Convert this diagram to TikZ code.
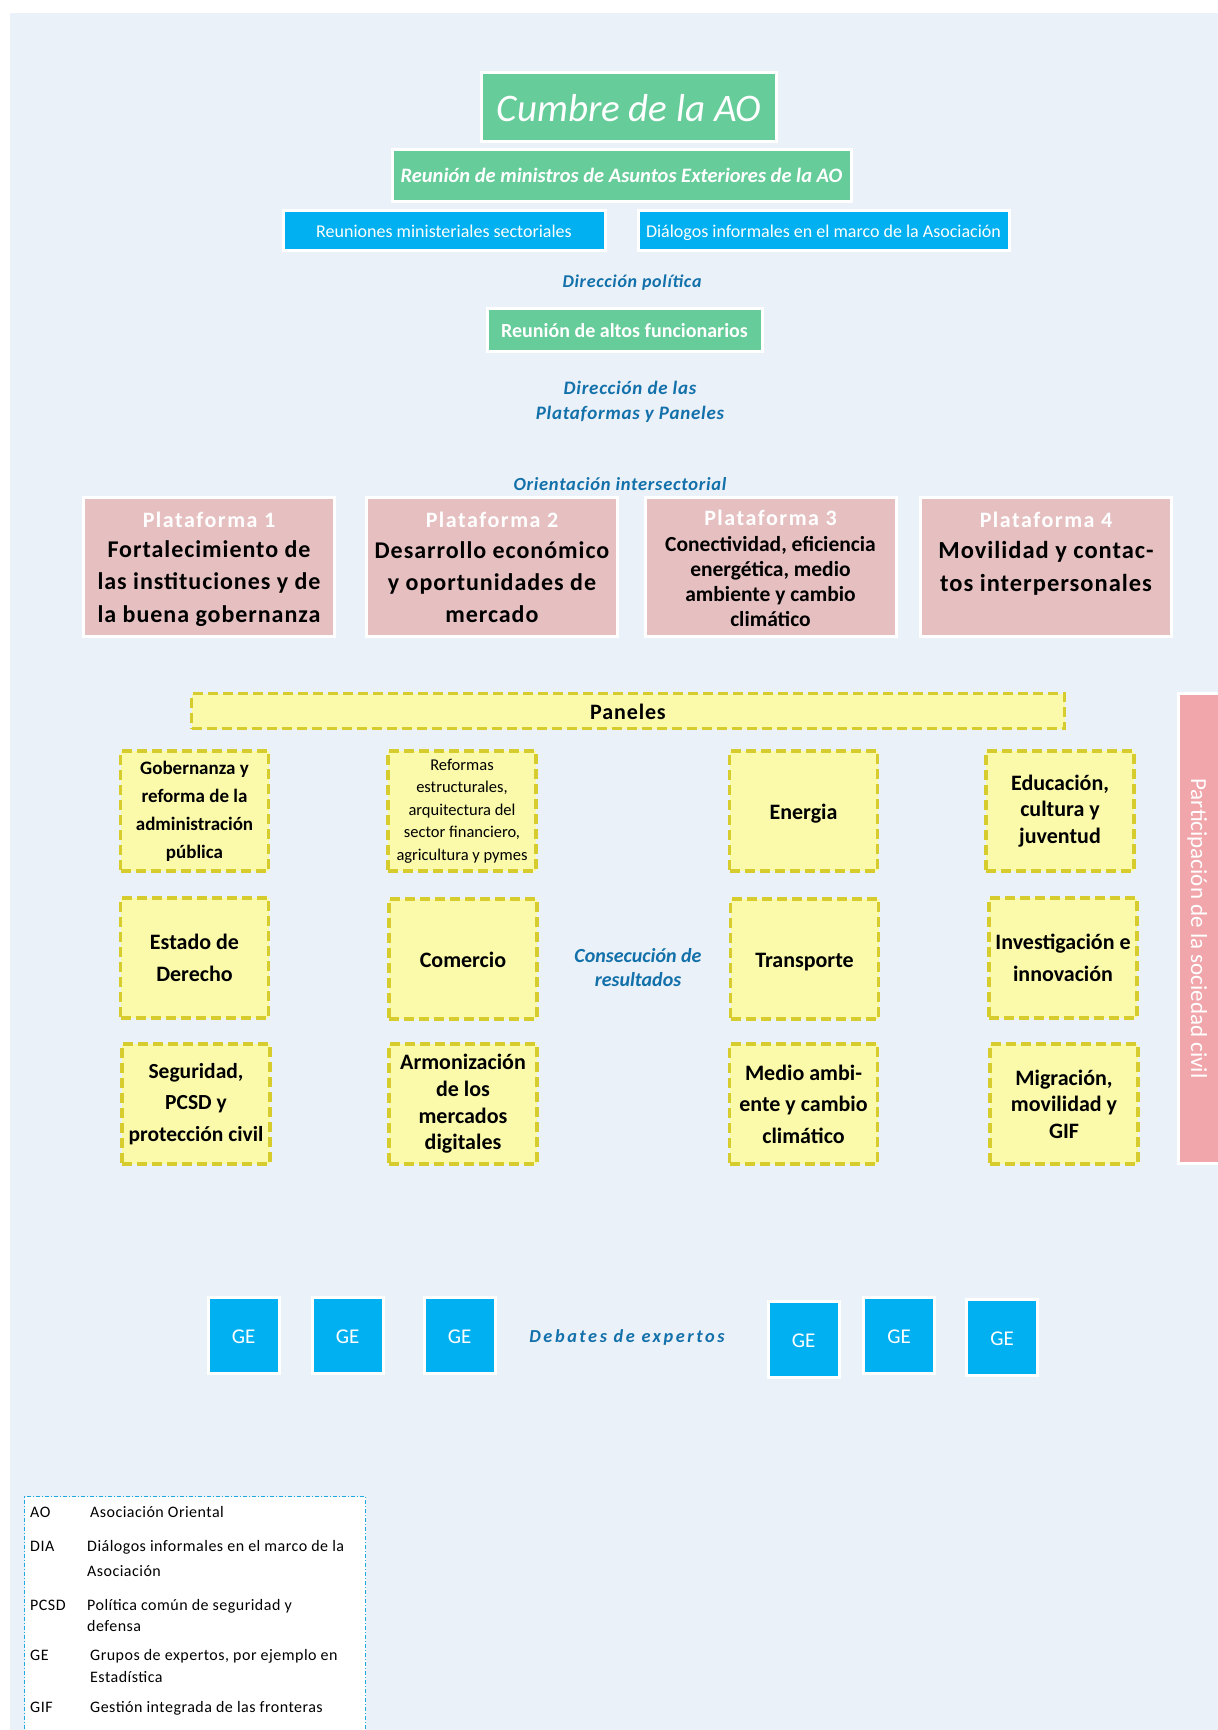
\documentclass[tikz,border=0pt]{standalone}
\usepackage{fontspec}
\setmainfont{Carlito}
\newfontfamily\spfont[LetterSpace=4]{Carlito}
\newfontfamily\tfont[LetterSpace=7]{Carlito}
\newfontfamily\lfont[LetterSpace=3]{Carlito}
\newfontfamily\wsfont[LetterSpace=14]{Carlito}
\definecolor{bgc}{RGB}{235,241,248}
\definecolor{cgreen}{RGB}{102,204,153}
\definecolor{cblue}{RGB}{0,176,240}
\definecolor{cplat}{RGB}{230,192,193}
\definecolor{cyel}{RGB}{250,250,170}
\definecolor{cdash}{RGB}{214,204,46}
\definecolor{cside}{RGB}{241,166,171}
\definecolor{ctxt}{RGB}{18,112,170}
\definecolor{cleg}{RGB}{30,170,225}
\newcommand\fs[2]{\fontsize{#1}{#2}\selectfont}
\tikzset{
  oneline/.style={text height={0.72*#1+1}, text depth=0pt},
  box/.style={draw=white, line width=3pt, inner sep=0pt, align=center, text=white},
  greenbox/.style={box, fill=cgreen},
  bluebox/.style={box, fill=cblue},
  platbox/.style={box, fill=cplat, minimum width=251pt, minimum height=139pt},
  plattitle/.style={text=white, inner sep=0pt, oneline=22, font=\fs{22}{24}\tfont\bfseries},
  platbody/.style={text=black, inner sep=0pt, align=center},
  dashbox/.style={draw=cdash, fill=cyel, line width=3.8pt, dash pattern=on 10pt off 5pt, inner sep=0pt, align=center, text=black},
  panelbox/.style={dashbox, minimum width=148pt, minimum height=120pt},
  gebox/.style={bluebox, oneline=21, minimum width=71pt, minimum height=76pt, font=\fs{21}{24}},
  headlbl/.style={text=ctxt, inner sep=0pt, align=center},
  legtxt/.style={text=black, inner sep=0pt, anchor=base west, font=\fs{16}{18}\lfont},
}
\begin{document}
\begin{tikzpicture}[x=1pt,y=-1pt]
\useasboundingbox (0,0) rectangle (1218,1730);
\fill[white] (0,0) rectangle (1218,1730);
\fill[bgc] (10,13) rectangle (1218,1730);

% top hierarchy
\node[greenbox, oneline=39, minimum width=295pt, minimum height=69pt, font=\fs{39}{40}\itshape] (cumbre) at (629,107) {Cumbre de la AO};
\node[greenbox, oneline=20.5, minimum width=459pt, minimum height=52pt, font=\fs{20.5}{22}\bfseries\itshape] (rmae) at (621.5,175) {Reunión de ministros de Asuntos Exteriores de la AO};
\node[bluebox, oneline=18, minimum width=322pt, minimum height=40pt, font=\fs{18}{19}] (rms) at (444,230.5) {Reuniones ministeriales sectoriales};
\node[bluebox, oneline=18, minimum width=371pt, minimum height=40pt, font=\fs{18}{19}] (dia) at (823.5,230.5) {Diálogos informales en el marco de la Asociación};
\node[headlbl, oneline=18, font=\fs{18}{20}\spfont\bfseries\itshape] (dirpol) at (632,281) {Dirección política};
\node[greenbox, oneline=20, minimum width=275pt, minimum height=43pt, font=\fs{20}{21}\bfseries] (raf) at (624.5,329.5) {Reunión de altos funcionarios};
\node[headlbl, font=\fs{19}{25}\spfont\bfseries\itshape] (dirpp) at (630,401.5) {Dirección de las\\Plataformas y Paneles};
\node[headlbl, oneline=18.5, font=\fs{18.5}{20}\spfont\bfseries\itshape] (orient) at (620,483) {Orientación intersectorial};

% platforms
\node[platbox] (p1) at (209,566.5) {};
\node[platbox] (p2) at (492,566.5) {};
\node[platbox] (p3) at (770.5,566.5) {};
\node[platbox] (p4) at (1046,566.5) {};
\node[plattitle] (p1t) at (209,519) {Plataforma 1};
\node[plattitle] (p2t) at (492,519) {Plataforma 2};
\node[plattitle] (p3t) at (770.5,517) {Plataforma 3};
\node[plattitle] (p4t) at (1046,519) {Plataforma 4};
\node[platbody, font=\fs{24}{32.5}\spfont\bfseries] (p1b) at (209,583.5) {Fortalecimiento de\\las instituciones y de\\la buena gobernanza};
\node[platbody, font=\fs{24}{32}\spfont\bfseries] (p2b) at (492,582.5) {Desarrollo económico\\y oportunidades de\\mercado};
\node[platbody, font=\fs{21.5}{25}\bfseries] (p3b) at (770.5,582) {Conectividad, eficiencia\\energética, medio\\ambiente y cambio\\climático};
\node[platbody, font=\fs{24.5}{33}\spfont\bfseries] (p4b) at (1046,568.5) {Movilidad y contac-\\tos interpersonales};

% panels
\node[dashbox, oneline=22, minimum width=873pt, minimum height=35pt, font=\fs{22}{23}\spfont\bfseries] (paneles) at (628,711) {Paneles};

\node[panelbox, font=\fs{19}{28}\bfseries] (g1) at (194.5,811) {Gobernanza y\\reforma de la\\administración\\pública};
\node[panelbox, font=\fs{22}{32}\bfseries] (g2) at (194.5,958) {Estado de\\Derecho};
\node[panelbox, font=\fs{21.5}{31.5}\bfseries] (g3) at (196,1104) {Seguridad,\\PCSD y\\protección civil};

\node[panelbox, font=\fs{16.5}{22.6}] (e1) at (462,811) {Reformas\\estructurales,\\arquitectura del\\sector financiero,\\agricultura y pymes};
\node[panelbox, oneline=22, font=\fs{22}{24}\bfseries] (e2) at (463,959) {Comercio};
\node[panelbox, font=\fs{22}{26.7}\bfseries] (e3) at (463,1104) {Armonización\\de los\\mercados\\digitales};

\node[panelbox, oneline=22, font=\fs{22}{24}\bfseries] (c1) at (803.5,811) {Energia};
\node[panelbox, oneline=22, font=\fs{22}{24}\bfseries] (c2) at (804.5,959) {Transporte};
\node[panelbox, font=\fs{22}{31.5}\bfseries] (c3) at (803.5,1104) {Medio ambi-\\ente y cambio\\climático};

\node[panelbox, font=\fs{22}{26.5}\bfseries] (m1) at (1060,811) {Educación,\\cultura y\\juventud};
\node[panelbox, font=\fs{22}{31.5}\bfseries] (m2) at (1063,958) {Investigación e\\innovación};
\node[panelbox, font=\fs{22}{26.5}\bfseries] (m3) at (1064,1104) {Migración,\\movilidad y\\GIF};

\node[headlbl, font=\fs{20}{24}\bfseries\itshape] (consec) at (638,968) {Consecución de\\resultados};

% civil society bar
\node[box, oneline=23, fill=cside, rotate=-90, minimum width=470pt, minimum height=43pt, font=\fs{23}{24}] (soc) at (1200,928.5) {Participación de la sociedad civil};

% expert groups
\node[gebox] (ge1) at (243.5,1335.5) {GE};
\node[gebox] (ge2) at (347.5,1335.5) {GE};
\node[gebox] (ge3) at (459.5,1335.5) {GE};
\node[gebox] (ge4) at (803.5,1339) {GE};
\node[gebox] (ge5) at (899,1335.5) {GE};
\node[gebox] (ge6) at (1002,1337.5) {GE};
\node[headlbl, oneline=18.3, font=\fs{18.3}{20}\wsfont\bfseries\itshape] (debates) at (627,1335) {Debates de expertos};

% legend
\node[draw=cleg, fill=white, line width=1.2pt, dash pattern=on 4pt off 2pt on 1pt off 2pt, minimum width=341pt, minimum height=260pt, anchor=north west, inner sep=0pt] (leg) at (24,1496) {};
\node[legtxt] (a1) at (30,1517) {AO};
\node[legtxt] (d1) at (90,1517) {Asociación Oriental};
\node[legtxt] (a2) at (30,1551) {DIA};
\node[legtxt] (d2) at (87,1551) {Diálogos informales en el marco de la};
\node[legtxt] (d2b) at (87,1576) {Asociación};
\node[legtxt] (a3) at (30,1610) {PCSD};
\node[legtxt] (d3) at (87,1610) {Política común de seguridad y};
\node[legtxt] (d3b) at (87,1631) {defensa};
\node[legtxt] (a4) at (30,1660) {GE};
\node[legtxt] (d4) at (90,1660) {Grupos de expertos, por ejemplo en};
\node[legtxt] (d4b) at (90,1682) {Estadística};
\node[legtxt] (a5) at (30,1712) {GIF};
\node[legtxt] (d5) at (90,1712) {Gestión integrada de las fronteras};
\end{tikzpicture}
\end{document}
